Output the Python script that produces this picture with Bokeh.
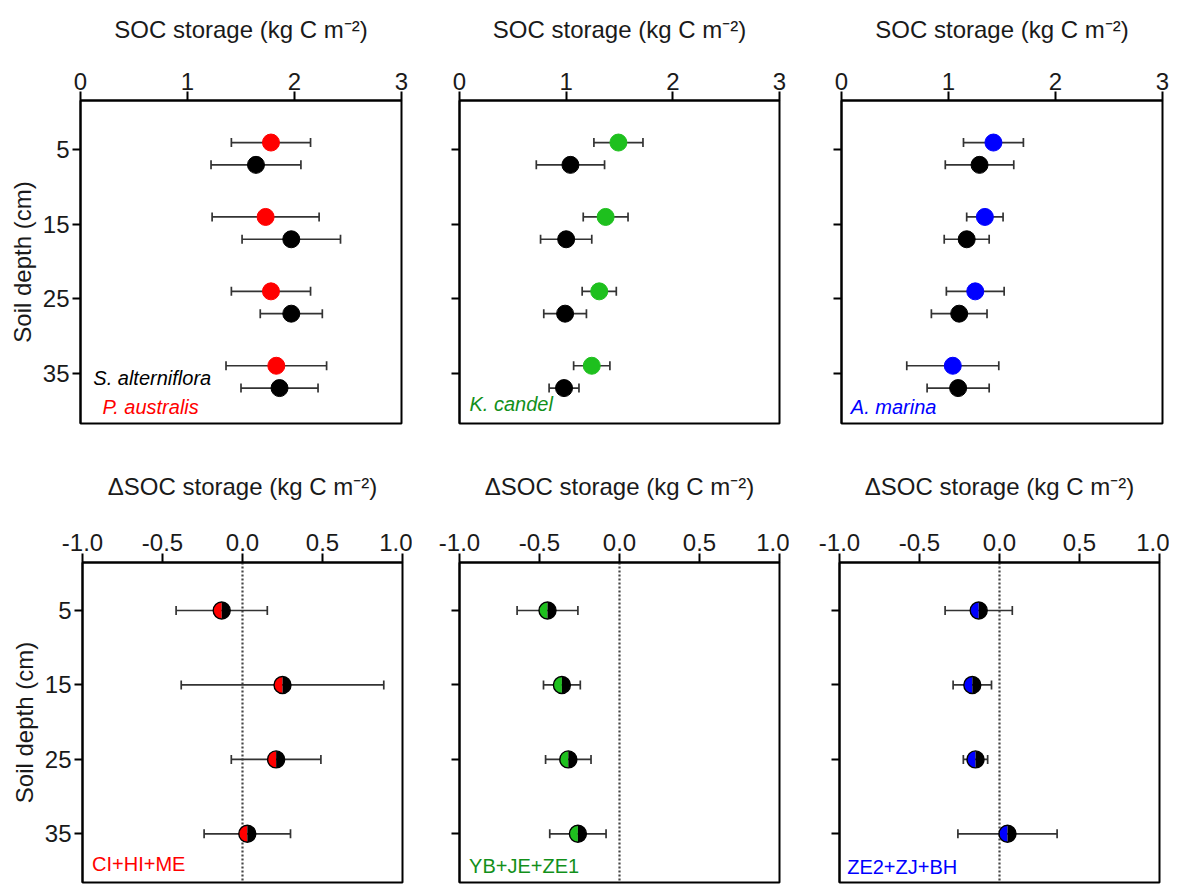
import math
from bokeh.plotting import figure
from bokeh.models import ColumnDataSource, Whisker, TeeHead, Span, Label, FixedTicker, Range1d
from bokeh.layouts import column, row
from bokeh.embed import file_html
from bokeh.resources import INLINE

# ---------------- data ----------------
depths = [5, 15, 25, 35]
depth_ticks = [5, 15, 25, 35]
depth_tick_labels = ["5", "15", "25", "35"]

soc_ticks = [0, 1, 2, 3]
soc_tick_labels = ["0", "1", "2", "3"]
dsoc_ticks = [-1.0, -0.5, 0.0, 0.5, 1.0]
dsoc_tick_labels = ["-1.0", "-0.5", "0.0", "0.5", "1.0"]

# top row: SOC storage (kg C m-2), mean and error
p_australis_mean = [1.78, 1.73, 1.78, 1.83]
p_australis_err = [0.37, 0.50, 0.37, 0.47]
s_alt_a_mean = [1.64, 1.97, 1.97, 1.86]
s_alt_a_err = [0.42, 0.46, 0.29, 0.36]

k_candel_mean = [1.49, 1.37, 1.31, 1.24]
k_candel_err = [0.23, 0.21, 0.16, 0.17]
s_alt_b_mean = [1.04, 1.00, 0.99, 0.98]
s_alt_b_err = [0.32, 0.24, 0.20, 0.14]

a_marina_mean = [1.42, 1.34, 1.25, 1.04]
a_marina_err = [0.28, 0.17, 0.27, 0.43]
s_alt_c_mean = [1.29, 1.17, 1.10, 1.09]
s_alt_c_err = [0.32, 0.21, 0.26, 0.29]

# bottom row: delta SOC storage
d_chm_mean = [-0.13, 0.25, 0.21, 0.03]
d_chm_err = [0.285, 0.633, 0.28, 0.27]
d_yjz_mean = [-0.45, -0.36, -0.32, -0.26]
d_yjz_err = [0.19, 0.115, 0.142, 0.176]
d_zzb_mean = [-0.13, -0.17, -0.15, 0.05]
d_zzb_err = [0.21, 0.12, 0.076, 0.31]

# ---------------- style ----------------
FONT = "Liberation Sans"
RED = "#FF0000"
GREEN = "#1EC01E"
GREEN_TXT = "#12901A"
BLUE = "#0000FF"
BAR = "#333333"
UPPER_OFF = -1.0
LOWER_OFF = 2.0


def make_fig(width, height, left, right, top, bottom, xr, yr, xticks, xlabels, title, show_y,
             tick_standoff, title_standoff):
    p = figure(width=width, height=height, x_range=Range1d(*xr), y_range=Range1d(*yr),
               x_axis_location="above", output_backend="svg", toolbar_location=None,
               min_border_left=left, min_border_right=right,
               min_border_top=top, min_border_bottom=bottom)
    p.grid.visible = False
    p.outline_line_color = "black"
    p.outline_line_width = 2
    p.background_fill_color = "white"
    p.border_fill_color = "white"

    xa = p.xaxis[0]
    xa.ticker = FixedTicker(ticks=xticks)
    xa.major_label_overrides = {t: l for t, l in zip(xticks, xlabels)}
    xa.minor_tick_line_color = None
    xa.major_tick_in = 0
    xa.major_tick_out = 9
    xa.major_tick_line_width = 2
    xa.axis_line_width = 2
    xa.major_label_standoff = tick_standoff
    xa.major_label_text_font = FONT
    xa.major_label_text_font_size = "24px"
    xa.major_label_text_color = "#1a1a1a"
    xa.axis_label = title
    xa.axis_label_text_font = FONT
    xa.axis_label_text_font_size = "24px"
    xa.axis_label_text_font_style = "normal"
    xa.axis_label_text_color = "#1a1a1a"
    xa.axis_label_standoff = title_standoff

    ya = p.yaxis[0]
    ya.ticker = FixedTicker(ticks=depth_ticks)
    if show_y:
        ya.major_label_overrides = {t: l for t, l in zip(depth_ticks, depth_tick_labels)}
        ya.axis_label = "Soil depth (cm)"
    else:
        ya.major_label_overrides = {t: "" for t in depth_ticks}
    ya.minor_tick_line_color = None
    ya.major_tick_in = 0
    ya.major_tick_out = 8
    ya.major_tick_line_width = 2
    ya.axis_line_width = 2
    ya.major_label_standoff = 3
    ya.major_label_text_font = FONT
    ya.major_label_text_font_size = "24px"
    ya.major_label_text_color = "#1a1a1a"
    ya.axis_label_text_font = FONT
    ya.axis_label_text_font_size = "24px"
    ya.axis_label_text_font_style = "normal"
    ya.axis_label_text_color = "#1a1a1a"
    ya.axis_label_standoff = 4
    return p


def add_errbars(p, src):
    w = Whisker(source=src, base="y", lower="lo", upper="hi", dimension="width",
                line_color=BAR, line_width=1.7,
                lower_head=TeeHead(size=9, line_color=BAR, line_width=1.7),
                upper_head=TeeHead(size=9, line_color=BAR, line_width=1.7))
    p.add_layout(w)


def top_panel(p, mean_c, err_c, color, mean_k, err_k):
    for mean, err, col, off in [(mean_c, err_c, color, UPPER_OFF), (mean_k, err_k, "black", LOWER_OFF)]:
        src = ColumnDataSource(dict(
            x=mean, y=[d + off for d in depths],
            lo=[m - e for m, e in zip(mean, err)],
            hi=[m + e for m, e in zip(mean, err)]))
        add_errbars(p, src)
        p.scatter("x", "y", source=src, size=17, fill_color=col, line_color=col)


def bottom_panel(p, mean, err, color):
    src = ColumnDataSource(dict(
        x=mean, y=depths,
        lo=[m - e for m, e in zip(mean, err)],
        hi=[m + e for m, e in zip(mean, err)]))
    p.add_layout(Span(location=0, dimension="height", line_color="#444444",
                      line_dash="2 2", line_width=2.2, level="underlay"))
    add_errbars(p, src)
    p.wedge("x", "y", radius=8.5, radius_units="screen", start_angle=math.pi / 2,
            end_angle=3 * math.pi / 2, fill_color=color, line_color=None, source=src)
    p.wedge("x", "y", radius=8.5, radius_units="screen", start_angle=-math.pi / 2,
            end_angle=math.pi / 2, fill_color="black", line_color=None, source=src)
    p.scatter("x", "y", source=src, size=17, fill_color=None, line_color="black", line_width=1.4)


def add_label(p, x, y, text, color, italic):
    p.add_layout(Label(x=x, y=y, text=text, text_color=color, text_font=FONT,
                       text_font_size="20px", text_baseline="middle",
                       text_font_style="italic" if italic else "normal"))


TOP_Y = (41.76, -1.65)
BOT_Y = (41.54, -1.45)
TITLE_TOP = "SOC storage (kg C m\u207b\u00b2)"
TITLE_BOT = "\u0394SOC storage (kg C m\u207b\u00b2)"

# top row
p1 = make_fig(411, 462, 80, 10, 100, 39, (0, 3), TOP_Y, soc_ticks, soc_tick_labels, TITLE_TOP, True, 2, 27)
top_panel(p1, p_australis_mean, p_australis_err, RED, s_alt_a_mean, s_alt_a_err)
add_label(p1, 0.12, 35.7, "S. alterniflora", "black", True)
add_label(p1, 0.205, 39.5, "P. australis", RED, True)

p2 = make_fig(378, 462, 48, 10, 100, 39, (0, 3), TOP_Y, soc_ticks, soc_tick_labels, TITLE_TOP, False, 2, 27)
top_panel(p2, k_candel_mean, k_candel_err, GREEN, s_alt_b_mean, s_alt_b_err)
add_label(p2, 0.094, 39.2, "K. candel", GREEN_TXT, True)

p3 = make_fig(383, 462, 52, 10, 100, 39, (0, 3), TOP_Y, soc_ticks, soc_tick_labels, TITLE_TOP, False, 2, 27)
top_panel(p3, a_marina_mean, a_marina_err, BLUE, s_alt_c_mean, s_alt_c_err)
add_label(p3, 0.087, 39.5, "A. marina", BLUE, True)

# bottom row
p4 = make_fig(412, 422, 82, 10, 100, 2, (-1, 1), BOT_Y, dsoc_ticks, dsoc_tick_labels, TITLE_BOT, True, 3, 31)
bottom_panel(p4, d_chm_mean, d_chm_err, RED)
add_label(p4, -0.94, 39.0, "CI+HI+ME", RED, False)

p5 = make_fig(377, 422, 47, 10, 100, 2, (-1, 1), BOT_Y, dsoc_ticks, dsoc_tick_labels, TITLE_BOT, False, 3, 31)
bottom_panel(p5, d_yjz_mean, d_yjz_err, GREEN)
add_label(p5, -0.94, 39.26, "YB+JE+ZE1", GREEN_TXT, False)

p6 = make_fig(380, 422, 50, 10, 100, 2, (-1, 1), BOT_Y, dsoc_ticks, dsoc_tick_labels, TITLE_BOT, False, 3, 31)
bottom_panel(p6, d_zzb_mean, d_zzb_err, BLUE)
add_label(p6, -0.952, 39.4, "ZE2+ZJ+BH", BLUE, False)

layout = column(row(p1, p2, p3), row(p4, p5, p6))
open("out.html", "w").write(file_html(layout, INLINE))
